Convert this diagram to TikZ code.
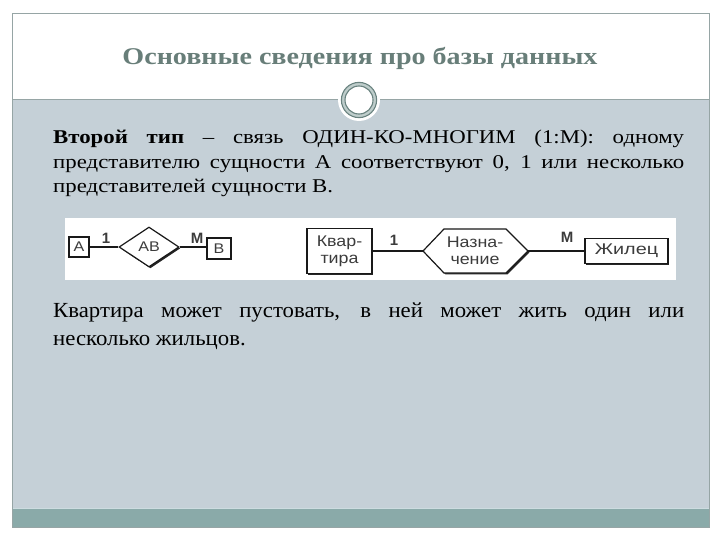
\documentclass[tikz,border=0pt]{standalone}
\usepackage{fontspec}
\usepackage{graphicx}
\setmainfont{Liberation Serif}
\newfontfamily\diagfont{Liberation Sans}
\usetikzlibrary{shapes.geometric,shadows}
\definecolor{bggrey}{RGB}{197,208,215}
\definecolor{tealband}{RGB}{138,170,169}
\definecolor{titlecol}{RGB}{104,126,121}
\definecolor{framecol}{RGB}{150,165,165}
\definecolor{ringcol}{RGB}{105,130,127}
\definecolor{ringlight}{RGB}{190,205,203}
\definecolor{bandline}{RGB}{205,220,224}
\definecolor{diagtext}{RGB}{60,60,60}
\newcommand{\hs}[1]{\scalebox{1.15}[1]{#1}}
\tikzset{
  shad/.style={drop shadow={shadow xshift=1.4pt,shadow yshift=-1.4pt,fill=black!85,opacity=1}},
  ebox/.style={draw=black!90,line width=1.2pt,fill=white,shad,inner sep=0pt,
    font=\diagfont\fontsize{15.5}{17}\selectfont,text=diagtext,align=center},
  rel/.style={draw=black!90,line width=1.3pt},
  card/.style={font=\diagfont\bfseries\fontsize{15}{16}\selectfont,text=diagtext,inner sep=0pt},
  body/.style={anchor=base west,inner sep=0pt},
}
\begin{document}
\begin{tikzpicture}[x=1pt,y=-1pt]
\useasboundingbox (0,0) rectangle (720,540);
\fill[white] (0,0) rectangle (720,540);
% panels
\fill[bggrey] (12,100) rectangle (709,509);
\fill[tealband] (12,509) rectangle (709,527);
\draw[bandline,line width=1.2pt] (12,508.5) -- (709,508.5);
\draw[framecol,line width=0.8pt] (12,13) rectangle (709,527);
\draw[framecol,line width=1pt] (12,100) -- (709,100);
% ring
\fill[white] (359,100) circle (21);
\draw[ringlight,line width=3.6pt] (359,100) circle (15.8);
\draw[ringcol,line width=1.1pt] (359,100) circle (17.6);
\draw[ringcol,line width=1.1pt] (359,100) circle (14);
% title
\node[anchor=base,inner sep=0pt,text=titlecol,font=\bfseries\fontsize{24}{28}\selectfont] (title) at (360,64.5)
  {\resizebox{475pt}{\height}{Основные сведения про базы данных}};
% paragraph 1
\node[body,font=\fontsize{19.5}{24.5}\selectfont] (p1) at (53,144)
  {\scalebox{1.17}[1]{\parbox[t]{539.3pt}{\hyphenpenalty=10000\exhyphenpenalty=10000
   \textbf{Второй тип} – связь ОДИН-КО-МНОГИМ (1:М): одному\linebreak
   представителю сущности А соответствуют 0, 1 или несколько\linebreak
   представителей сущности В.}}};
% diagram strip
\fill[white] (65,218) rectangle (676,280);
% left diagram
\node[ebox,minimum width=20,minimum height=20,font=\diagfont\fontsize{14}{15}\selectfont] (A) at (79,247) {\hs{A}};
\node[diamond,aspect=1.5,draw=black!90,line width=1.2pt,fill=white,shad,inner sep=0pt,
  minimum width=60,minimum height=40,font=\diagfont\fontsize{14}{15}\selectfont,text=diagtext] (AB) at (149,247) {\hs{AB}};
\node[ebox,minimum width=24,minimum height=21,font=\diagfont\fontsize{14}{15}\selectfont] (B) at (219,248.5) {\hs{B}};
\draw[rel] (A.east) -- (AB.west);
\draw[rel] (AB.east) -- (AB.east -| B.west);
\node[card] (c1) at (106,238) {1};
\node[card] (c2) at (197,238) {M};
% right diagram
\node[ebox,minimum width=65,minimum height=45] (kv) at (339.5,251) {\hs{Квар-}\\\hs{тира}};
\coordinate (hW) at (423,251);
\coordinate (hE) at (528,251);
\path[draw=black!90,line width=1.2pt,fill=white,shad]
  (hW) -- (444,229) -- (506,229) -- (hE) -- (506,273) -- (444,273) -- cycle;
\node[font=\diagfont\fontsize{15.5}{17}\selectfont,text=diagtext,align=center,inner sep=0pt] (nz) at (475,251) {\hs{Назна-}\\\hs{чение}};
\node[ebox,minimum width=83,minimum height=25] (zh) at (626.5,251) {\scalebox{1.28}[1]{Жилец}};
\draw[rel] (kv.east) -- (hW);
\draw[rel] (hE) -- (zh.west);
\node[card] (c3) at (394,240) {1};
\node[card] (c4) at (567,237) {M};
% paragraph 2
\node[body,font=\fontsize{21.5}{28}\selectfont] (p2) at (53,317)
  {\scalebox{1.06}[1]{\parbox[t]{595.3pt}{%
   Квартира может пустовать, в ней может жить один или\linebreak
   несколько жильцов.}}};
\end{tikzpicture}
\end{document}
